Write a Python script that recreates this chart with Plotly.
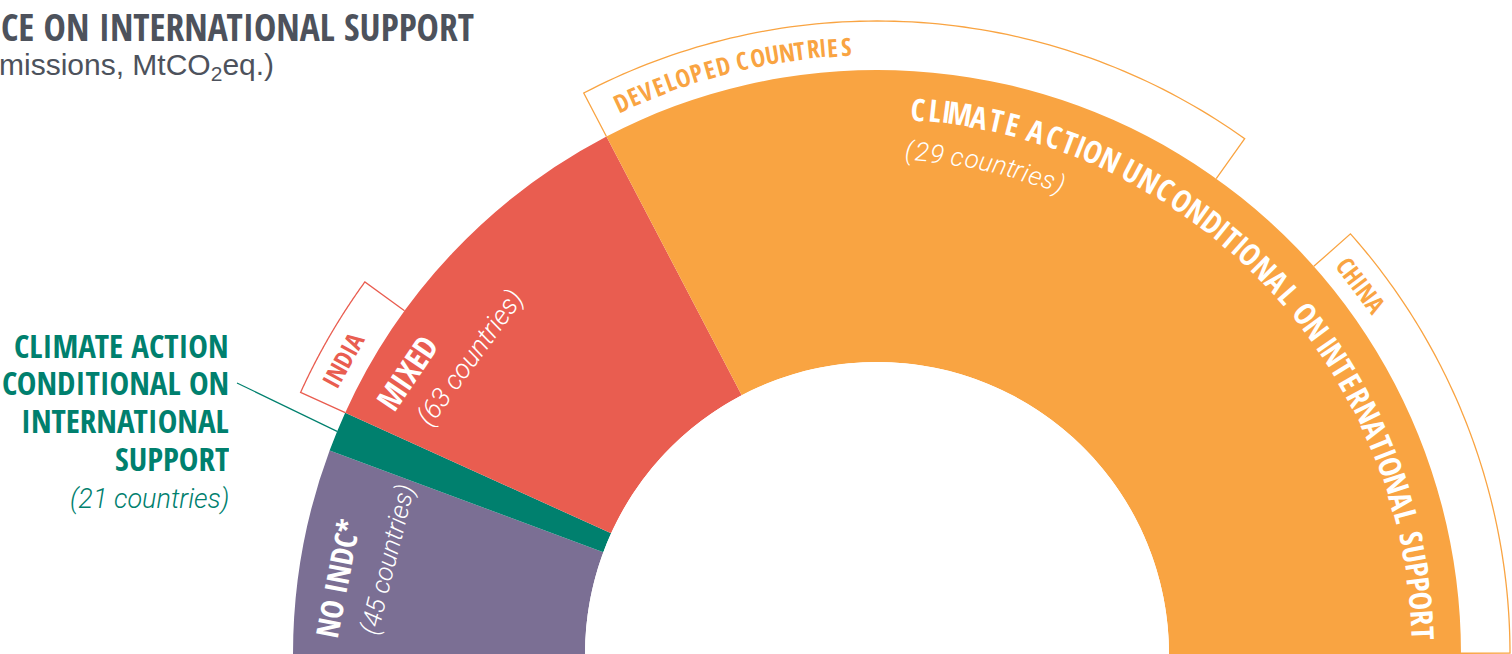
import math
import plotly.graph_objects as go

# ---------------- data ----------------
categories = ["NO INDC*", "CLIMATE ACTION CONDITIONAL ON INTERNATIONAL SUPPORT",
              "MIXED", "CLIMATE ACTION UNCONDITIONAL ON INTERNATIONAL SUPPORT"]
country_counts = [45, 21, 63, 29]
emissions = [5440, 1070, 10130, 31360]          # MtCO2eq (estimated)
colors = ["#7B6F94", "#00806E", "#E95D50", "#F9A442"]

bracket_names = ["INDIA", "DEVELOPED COUNTRIES", "CHINA"]
bracket_group = [2, 3, 3]                         # index of the segment containing it
bracket_offset = [0, 0, 20270]                    # emissions before bracket inside segment
bracket_value = [3090, 16830, 11070]              # MtCO2eq (estimated)
bracket_colors = ["#E95D50", "#F9A442", "#F9A442"]

title_text = "CE ON INTERNATIONAL SUPPORT"
subtitle_text = "missions, MtCO<sub>2</sub>eq.)"

# ---------------- layout geometry ----------------
W, H = 1512, 654
CX, CY = 877, 654
R_IN, R_OUT, R_POLAR = 292, 584, 635
RMAX = (R_POLAR - R_IN) / (R_OUT - R_IN)
R_BRACKET = (633 - R_IN) / (R_OUT - R_IN)

BOLD = "Noto Sans Condensed, Open Sans Condensed, Roboto, sans-serif"
LIGHT = "Roboto, Liberation Sans, sans-serif"
REG = "Liberation Sans, Arial, sans-serif"
GRAY = "#4D525C"
TEAL = "#00806E"

total = sum(emissions)
to_deg = 180.0 / total
seg_deg = [e * to_deg for e in emissions]
seg_start = []
acc = 0.0
for d in seg_deg:
    seg_start.append(acc)
    acc += d
seg_center = [s + d / 2 for s, d in zip(seg_start, seg_deg)]

fig = go.Figure()
fig.add_trace(go.Barpolar(
    theta=seg_center, width=seg_deg, r=[1] * len(emissions), base=0,
    marker=dict(color=colors, line=dict(width=0)),
    text=categories, hoverinfo="text", showlegend=False))

# brackets
for name, g, off, val, col in zip(bracket_names, bracket_group, bracket_offset,
                                  bracket_value, bracket_colors):
    t0 = seg_start[g] + off * to_deg
    t1 = t0 + val * to_deg
    n = 80
    arc = [t0 + (t1 - t0) * i / n for i in range(n + 1)]
    th = [t0] + arc + [t1]
    rr = [1.0] + [R_BRACKET] * (n + 1) + [1.0]
    fig.add_trace(go.Scatterpolar(theta=th, r=rr, mode="lines",
                                  line=dict(color=col, width=1.3),
                                  hoverinfo="skip", showlegend=False))


def paper(theta_math, r_px):
    a = math.radians(theta_math)
    x = CX + r_px * math.cos(a)
    y = CY - r_px * math.sin(a)
    return x / W, 1 - y / H


annotations = []


def label(text, theta_math, r_px, size, family, color, angle, weight="normal",
          style="normal"):
    x, y = paper(theta_math, r_px)
    annotations.append(dict(x=x, y=y, xref="paper", yref="paper", text=text,
                            showarrow=False, xanchor="center", yanchor="middle",
                            textangle=angle,
                            font=dict(size=size, family=family, color=color,
                                      weight=weight, style=style)))


W_BOLD = {'A': 722, 'B': 722, 'C': 722, 'D': 722, 'E': 667, 'F': 611, 'G': 778,
          'H': 722, 'I': 278, 'L': 611, 'M': 833, 'N': 722, 'O': 778, 'P': 667,
          'R': 722, 'S': 667, 'T': 611, 'U': 722, 'V': 667, 'X': 667, 'Y': 667,
          ' ': 278}
W_REG = {'A': 667, 'C': 722, 'D': 722, 'E': 667, 'H': 722, 'I': 278, 'L': 556,
         'N': 722, 'O': 778, 'P': 667, 'R': 722, 'S': 667, 'T': 611, 'U': 722,
         'V': 667, ' ': 278, '(': 333, ')': 333, 'a': 556, 'c': 500, 'e': 556,
         'i': 222, 'n': 556, 'o': 556, 'r': 333, 's': 500, 't': 278, 'u': 556}
for dgt in "0123456789":
    W_REG[dgt] = 556


def curved(text, anchors, r_px, size, family, color, widths, weight="normal",
           style="normal"):
    w = [widths.get(ch, 600) for ch in text]
    cen = []
    s = 0.0
    for wi in w:
        cen.append(s + wi / 2)
        s += wi
    keys = sorted(anchors)
    for i, ch in enumerate(text):
        if ch == " ":
            continue
        for k0, k1 in zip(keys[:-1], keys[1:]):
            if k0 <= i <= k1:
                break
        f = (cen[i] - cen[k0]) / (cen[k1] - cen[k0])
        th = anchors[k0] + f * (anchors[k1] - anchors[k0])
        label(ch, th, r_px, size, family, color, 90 - th, weight, style)


# ring labels
curved(categories[3], {0: 85.7, 15: 62.1, 29: 38.5, 46: 12.2, 52: 2.2}, 547,
       31, BOLD, "white", W_BOLD, weight="bold")
curved("(%d countries)" % country_counts[3], {0: 86.2, 13: 68.8}, 504, 26, LIGHT,
       "white", W_REG, weight=300, style="italic")
curved(bracket_names[1], {0: 114.9, 18: 92.9}, 609, 25, BOLD, bracket_colors[1],
       W_REG)

label(categories[2], 149.1, 548, 32, BOLD, "white", -56, weight="bold")
label("(%d countries)" % country_counts[2], 144.0, 503, 27, LIGHT, "white", -54,
      weight=300, style="italic")
label(categories[0], 172.0, 545, 31, BOLD, "white", -79, weight="bold")
label("(%d countries)" % country_counts[0], 169.0, 499, 26, LIGHT, "white", -76,
      weight=300, style="italic")
label(bracket_names[0], 151.1, 610, 25, BOLD, bracket_colors[0], -61)
label(bracket_names[2], 37.3, 609, 25, BOLD, bracket_colors[2], 53)

# left label for the conditional segment
left_lines = ["CLIMATE ACTION", "CONDITIONAL ON", "INTERNATIONAL", "SUPPORT"]
left_y = [345, 382, 420, 458]
for txt, yy in zip(left_lines, left_y):
    annotations.append(dict(x=230 / W, y=1 - yy / H, xref="paper", yref="paper",
                            text=txt, showarrow=False, xanchor="right",
                            yanchor="middle", height=34, valign="middle",
                            borderpad=0,
                            font=dict(size=33, family=BOLD, color=TEAL,
                                      weight="bold")))
annotations.append(dict(x=231 / W, y=1 - 499 / H, xref="paper", yref="paper",
                        text="(%d countries)" % country_counts[1], showarrow=False,
                        xanchor="right", yanchor="middle",
                        font=dict(size=27, family=LIGHT, color=TEAL, weight=300,
                                  style="italic")))

# title / subtitle
annotations.append(dict(x=476 / W, y=1 - 27 / H, xref="paper", yref="paper",
                        text=title_text, showarrow=False, xanchor="right",
                        yanchor="middle",
                        font=dict(size=37.5, family=BOLD, color=GRAY,
                                  weight="bold")))
annotations.append(dict(x=276 / W, y=1 - 66 / H, xref="paper", yref="paper",
                        text=subtitle_text, showarrow=False, xanchor="right",
                        yanchor="middle",
                        font=dict(size=30, family=REG, color=GRAY)))

# leader line from left label to the conditional segment
ex, ey = paper(180 - seg_center[1], R_OUT)
shapes = [dict(type="line", xref="paper", yref="paper", x0=237 / W, y0=1 - 383 / H,
               x1=ex, y1=ey, line=dict(color=TEAL, width=1.2))]

fig.update_layout(
    width=W, height=H, autosize=False,
    margin=dict(l=0, r=0, t=0, b=0),
    paper_bgcolor="white", plot_bgcolor="white",
    polar=dict(
        domain=dict(x=[(CX - R_POLAR) / W, (CX + R_POLAR) / W], y=[0, R_POLAR / H]),
        sector=[0, 180], hole=R_IN / R_POLAR, bgcolor="rgba(0,0,0,0)",
        angularaxis=dict(visible=False, rotation=180, direction="clockwise",
                         showgrid=False),
        radialaxis=dict(visible=False, range=[0, RMAX], showgrid=False)),
    annotations=annotations, shapes=shapes, showlegend=False)

fig.write_html("out.html", config={"displayModeBar": False},
               post_script="document.body.style.margin='0';"
                           "document.body.style.overflow='hidden';")
